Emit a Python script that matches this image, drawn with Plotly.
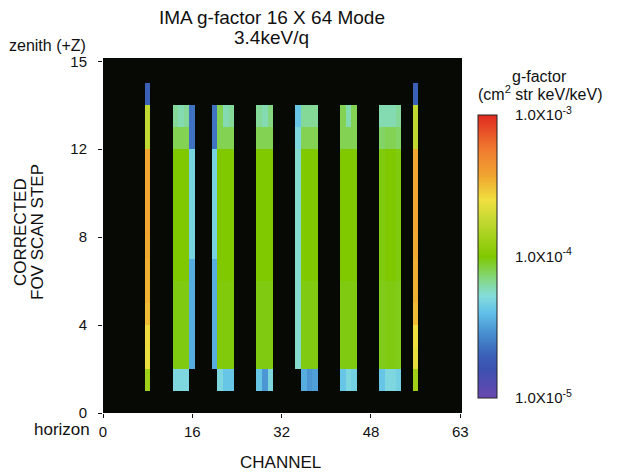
import numpy as np
import plotly.graph_objects as go

# ---- data (g-factor, cm^2 str keV/keV), rows = scan steps 1..14 bottom->top ----
n_channels = 64
n_steps = 16
x_tick_vals = [0, 16, 32, 48, 64]
x_tick_text = ["0", "16", "32", "48", "63"]
y_tick_vals = [0, 4, 8, 12, 16]
y_tick_text = ["0", "4", "8", "12", "15"]

g_ch08 = [1.3e-4, 2.4e-4, 2.6e-4, 3.2e-4, 3.4e-4, 3.5e-4, 3.6e-4, 3.7e-4, 3.7e-4, 3.7e-4, 3.7e-4, 1.75e-4, 1.75e-4, 2.0e-5]
g_ch13 = [5.0e-5, 9.5e-5, 9.5e-5, 9.5e-5, 9.5e-5, 1.0e-4, 1.0e-4, 1.0e-4, 1.0e-4, 1.0e-4, 1.0e-4, 7.9e-5, 6.5e-5, None]
g_ch14 = [5.0e-5, 9.5e-5, 9.5e-5, 9.5e-5, 9.5e-5, 1.0e-4, 1.0e-4, 1.0e-4, 1.0e-4, 1.0e-4, 1.0e-4, 7.9e-5, 6.0e-5, None]
g_ch15 = [5.0e-5, 9.5e-5, 9.5e-5, 9.5e-5, 9.5e-5, 1.0e-4, 1.0e-4, 1.0e-4, 1.0e-4, 1.0e-4, 1.0e-4, 7.9e-5, 6.5e-5, None]
g_ch16 = [None, 3.5e-5, 3.5e-5, 3.5e-5, 3.5e-5, 3.5e-5, 4.8e-5, 4.8e-5, 4.8e-5, 4.8e-5, 4.8e-5, 2.3e-5, 2.3e-5, None]
g_ch20 = [None, 3.5e-5, 3.5e-5, 3.5e-5, 3.5e-5, 3.5e-5, 4.8e-5, 4.8e-5, 4.8e-5, 4.8e-5, 4.8e-5, 2.3e-5, 2.3e-5, None]
g_ch21 = [5.0e-5, 9.7e-5, 9.7e-5, 9.7e-5, 9.7e-5, 1.0e-4, 1.0e-4, 1.0e-4, 1.0e-4, 1.0e-4, 1.0e-4, 7.9e-5, 7.9e-5, None]
g_ch22 = [4.2e-5, 9.7e-5, 9.7e-5, 9.7e-5, 9.7e-5, 1.0e-4, 1.0e-4, 1.0e-4, 1.0e-4, 1.0e-4, 1.0e-4, 7.9e-5, 6.0e-5, None]
g_ch23 = [4.2e-5, 9.7e-5, 9.7e-5, 9.7e-5, 9.7e-5, 1.0e-4, 1.0e-4, 1.0e-4, 1.0e-4, 1.0e-4, 1.0e-4, 7.9e-5, 6.5e-5, None]
g_ch28 = [4.2e-5, 9.5e-5, 9.5e-5, 9.5e-5, 9.5e-5, 1.0e-4, 1.0e-4, 1.0e-4, 1.0e-4, 1.0e-4, 1.0e-4, 7.9e-5, 6.5e-5, None]
g_ch29 = [3.0e-5, 9.5e-5, 9.5e-5, 9.5e-5, 9.5e-5, 1.0e-4, 1.0e-4, 1.0e-4, 1.0e-4, 1.0e-4, 1.0e-4, 7.9e-5, 6.0e-5, None]
g_ch30 = [5.0e-5, 9.5e-5, 9.5e-5, 9.5e-5, 9.5e-5, 1.0e-4, 1.0e-4, 1.0e-4, 1.0e-4, 1.0e-4, 1.0e-4, 7.9e-5, 7.0e-5, None]
g_ch35 = [None, 5.5e-5, 5.5e-5, 5.5e-5, 5.5e-5, 5.5e-5, 5.5e-5, 5.5e-5, 5.5e-5, 5.5e-5, 5.5e-5, 5.0e-5, 4.2e-5, None]
g_ch36 = [3.5e-5, 9.5e-5, 9.5e-5, 9.5e-5, 9.5e-5, 1.0e-4, 1.0e-4, 1.0e-4, 1.0e-4, 1.0e-4, 1.0e-4, 7.9e-5, 6.5e-5, None]
g_ch37 = [3.0e-5, 9.5e-5, 9.5e-5, 9.5e-5, 9.5e-5, 1.0e-4, 1.0e-4, 1.0e-4, 1.0e-4, 1.0e-4, 1.0e-4, 7.9e-5, 6.5e-5, None]
g_ch38 = [3.2e-5, 9.5e-5, 9.5e-5, 9.5e-5, 9.5e-5, 1.0e-4, 1.0e-4, 1.0e-4, 1.0e-4, 1.0e-4, 1.0e-4, 7.9e-5, 6.5e-5, None]
g_ch43 = [4.2e-5, 9.5e-5, 9.5e-5, 9.5e-5, 9.5e-5, 1.0e-4, 1.0e-4, 1.0e-4, 1.0e-4, 1.0e-4, 1.0e-4, 7.9e-5, 7.9e-5, None]
g_ch44 = [5.0e-5, 9.5e-5, 9.5e-5, 9.5e-5, 9.5e-5, 1.0e-4, 1.0e-4, 1.0e-4, 1.0e-4, 1.0e-4, 1.0e-4, 7.9e-5, 6.0e-5, None]
g_ch45 = [4.6e-5, 9.5e-5, 9.5e-5, 9.5e-5, 9.5e-5, 1.0e-4, 1.0e-4, 1.0e-4, 1.0e-4, 1.0e-4, 1.0e-4, 7.9e-5, 7.9e-5, None]
g_ch50 = [4.2e-5, 9.3e-5, 9.3e-5, 9.3e-5, 9.3e-5, 9.6e-5, 9.6e-5, 9.6e-5, 9.6e-5, 9.6e-5, 9.6e-5, 7.5e-5, 6.0e-5, None]
g_ch51 = [5.0e-5, 9.5e-5, 9.5e-5, 9.5e-5, 9.5e-5, 1.0e-4, 1.0e-4, 1.0e-4, 1.0e-4, 1.0e-4, 1.0e-4, 7.9e-5, 6.0e-5, None]
g_ch52 = [5.0e-5, 9.5e-5, 9.5e-5, 9.5e-5, 9.5e-5, 1.0e-4, 1.0e-4, 1.0e-4, 1.0e-4, 1.0e-4, 1.0e-4, 7.9e-5, 6.0e-5, None]
g_ch53 = [4.6e-5, 9.3e-5, 9.3e-5, 9.3e-5, 9.3e-5, 9.6e-5, 9.6e-5, 9.6e-5, 9.6e-5, 9.6e-5, 9.6e-5, 7.5e-5, 6.5e-5, None]
g_ch56 = [1.3e-4, 2.3e-4, 2.5e-4, 3.2e-4, 3.4e-4, 3.5e-4, 3.6e-4, 3.7e-4, 3.7e-4, 3.7e-4, 3.7e-4, 1.75e-4, 1.75e-4, 2.0e-5]

active_channels = [8, 13, 14, 15, 16, 20, 21, 22, 23, 28, 29, 30, 35, 36, 37, 38,
                   43, 44, 45, 50, 51, 52, 53, 56]
active_columns = [g_ch08, g_ch13, g_ch14, g_ch15, g_ch16, g_ch20, g_ch21, g_ch22, g_ch23,
                  g_ch28, g_ch29, g_ch30, g_ch35, g_ch36, g_ch37, g_ch38,
                  g_ch43, g_ch44, g_ch45, g_ch50, g_ch51, g_ch52, g_ch53, g_ch56]

# ---- build grid (log10 for colour mapping) ----
z = np.full((n_steps, n_channels), np.nan)
for ch, col in zip(active_channels, active_columns):
    for i, v in enumerate(col):
        if v is not None:
            z[i + 1, ch] = np.log10(v)
z_list = [[None if np.isnan(v) else float(v) for v in row] for row in z]

colorscale = [
    [0.00, "#6a48b0"], [0.10, "#3c50b0"], [0.15, "#3a60b8"], [0.23, "#4890d0"],
    [0.30, "#60c0e8"], [0.36, "#84dcdc"], [0.42, "#84d884"], [0.50, "#80c800"],
    [0.62, "#c0d830"], [0.70, "#f0e040"], [0.78, "#f0a830"], [0.88, "#f07a30"],
    [1.00, "#e02a20"],
]

FONT = "Liberation Sans, Arial, Helvetica, sans-serif"
OFF = 8                      # page body margin in the browser
W, H = 620 - OFF, 474 - OFF
PL, PR, PT, PB = 103, 462, 58, 413   # plot area in screen pixels
L, R, T, B = PL - OFF, W - (PR - OFF), PT - OFF, H - (PB - OFF)
PW, PH = PR - PL, PB - PT


def px(xs):
    return (xs - PL) / PW


def py(ys):
    return (PB - ys) / PH


fig = go.Figure(go.Heatmap(
    z=z_list,
    x=list(range(n_channels)),
    y=[r + 0.5 for r in range(n_steps)],
    zmin=-5, zmax=-3,
    colorscale=colorscale,
    hoverongaps=False,
    colorbar=dict(
        x=px(478), xanchor="left", xpad=0,
        y=py(256.5), yanchor="middle", len=283 / PH, lenmode="fraction", ypad=0,
        thickness=19, outlinecolor="#222222", outlinewidth=1,
        tickvals=[-5, -4, -3],
        ticktext=["1.0X10<sup>-5</sup>", "1.0X10<sup>-4</sup>", "1.0X10<sup>-3</sup>"],
        ticks="outside", ticklen=15, tickcolor="rgba(0,0,0,0)",
        tickfont=dict(family=FONT, size=15, color="#111111"),
    ),
))

ann_font = dict(family=FONT, color="#111111")
annotations = [
    dict(text="IMA g-factor 16 X 64 Mode", x=px(272), y=py(18), size=19),
    dict(text="3.4keV/q", x=px(271), y=py(37), size=19),
    dict(text="CHANNEL", x=px(280), y=py(462), size=17),
    dict(text="g-factor", x=px(539), y=py(76), size=16),
    dict(text="(cm<sup>2</sup> str keV/keV)", x=px(540), y=py(93), size=16),
]
ann_list = []
for a in annotations:
    ann_list.append(dict(text=a["text"], xref="paper", yref="paper", x=a["x"], y=a["y"],
                         xanchor="center", yanchor="middle", showarrow=False,
                         font=dict(size=a["size"], **ann_font)))
ann_list += [
    dict(text="zenith (+Z)", xref="paper", yref="paper", x=px(88), y=py(45),
         xanchor="right", yanchor="middle", showarrow=False, font=dict(size=16, **ann_font)),
    dict(text="horizon", xref="paper", yref="paper", x=px(92), y=py(429),
         xanchor="right", yanchor="middle", showarrow=False, font=dict(size=17, **ann_font)),
    dict(text="CORRECTED", xref="paper", yref="paper", x=px(20), y=py(232),
         xanchor="center", yanchor="middle", showarrow=False, textangle=-90,
         font=dict(size=17, **ann_font)),
    dict(text="FOV SCAN STEP", xref="paper", yref="paper", x=px(37), y=py(232),
         xanchor="center", yanchor="middle", showarrow=False, textangle=-90,
         font=dict(size=17, **ann_font)),
]

fig.update_layout(
    width=W, height=H,
    margin=dict(l=L, r=R, t=T, b=B, autoexpand=False),
    paper_bgcolor="white",
    plot_bgcolor="#070904",
    font=dict(family=FONT, color="#111111"),
    xaxis=dict(range=[0, 64.3], tickvals=x_tick_vals, ticktext=x_tick_text,
               ticks="outside", ticklen=4, tickcolor="#111111", showgrid=False,
               zeroline=False, showline=False, tickfont=dict(size=15),
               ticklabelstandoff=1, automargin=False),
    yaxis=dict(range=[0, 16.15], tickvals=y_tick_vals, ticktext=y_tick_text,
               ticks="outside", ticklen=4, tickcolor="#111111", showgrid=False,
               zeroline=False, showline=False, tickfont=dict(size=15),
               ticklabelstandoff=8, automargin=False),
    annotations=ann_list,
)

fig.write_html("out.html")
